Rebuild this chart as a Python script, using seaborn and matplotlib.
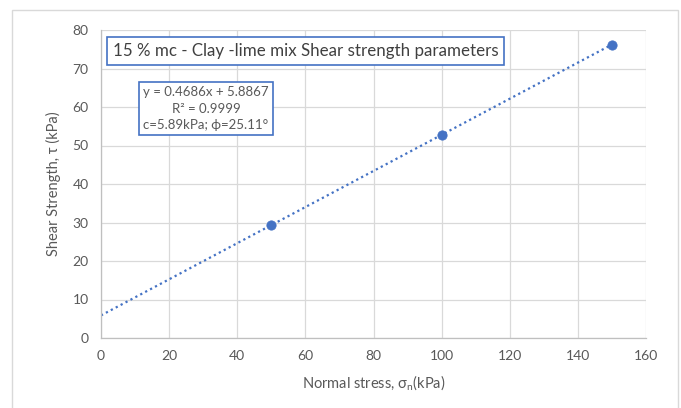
import numpy as np
import pandas as pd
import matplotlib
matplotlib.use("Agg")
import matplotlib.pyplot as plt
import seaborn as sns
from matplotlib.patches import Rectangle

normal_stress = [50, 100, 150]
shear_strength = [29.3, 52.8, 76.2]
x_ticks = [0, 20, 40, 60, 80, 100, 120, 140, 160]
y_ticks = [0, 10, 20, 30, 40, 50, 60, 70, 80]
title_text = "15 % mc - Clay -lime mix Shear strength parameters"
eq_text = "y = 0.4686x + 5.8867\nR² = 0.9999\nc=5.89kPa; ϕ=25.11°"

sns.set_theme(style="white")
plt.rcParams['font.family'] = ['Lato', 'DejaVu Sans']

blue = "#4472C4"
gray_txt = "#595959"

fig = plt.figure(figsize=(6.81, 4.08), dpi=100)
ax = fig.add_axes([101/681, 70/408, 545/681, 308/408])

df = pd.DataFrame({"x": normal_stress, "y": shear_strength})
slope, intercept = np.polyfit(df["x"], df["y"], 1)
xs = np.array([0, 150])
ax.plot(xs, slope * xs + intercept, linestyle=(0, (1, 1.5)), color=blue, lw=1.6, zorder=2)
sns.scatterplot(data=df, x="x", y="y", ax=ax, color=blue, s=45, edgecolor=blue, zorder=3)

ax.set_xlim(0, 160)
ax.set_ylim(0, 80)
ax.set_xticks(x_ticks)
ax.set_yticks(y_ticks)
ax.grid(True, color="#d9d9d9", lw=0.9)
ax.set_axisbelow(True)
for s in ["top", "right"]:
    ax.spines[s].set_visible(False)
for s in ["left", "bottom"]:
    ax.spines[s].set_color("#bfbfbf")
    ax.spines[s].set_linewidth(0.9)
ax.tick_params(axis="both", colors=gray_txt, labelsize=10, length=0, pad=9)
ax.set_xlabel("Normal stress, σ$_\\mathregular{n}$(kPa)", color=gray_txt, fontsize=10.5, labelpad=8)
ax.set_ylabel("Shear Strength, τ (kPa)", color=gray_txt, fontsize=10.5, labelpad=8)

ax.text(3.4, 74.5, title_text, fontsize=12.2, color="#404040", ha="left", va="center",
        bbox=dict(boxstyle="square,pad=0.35", fc="white", ec=blue, lw=1.2), zorder=5)
ax.text(30.8, 59.6, eq_text, fontsize=9.5, color=gray_txt, ha="center", va="center",
        multialignment="center", linespacing=1.45,
        bbox=dict(boxstyle="square,pad=0.3", fc="white", ec=blue, lw=1.2), zorder=5)

fig.patches.append(Rectangle((12/681, -0.01), 666/681, 1 - 10/408 + 0.01, transform=fig.transFigure,
                             fill=False, ec="#d9d9d9", lw=1))

fig.savefig("out.png", dpi=100)
